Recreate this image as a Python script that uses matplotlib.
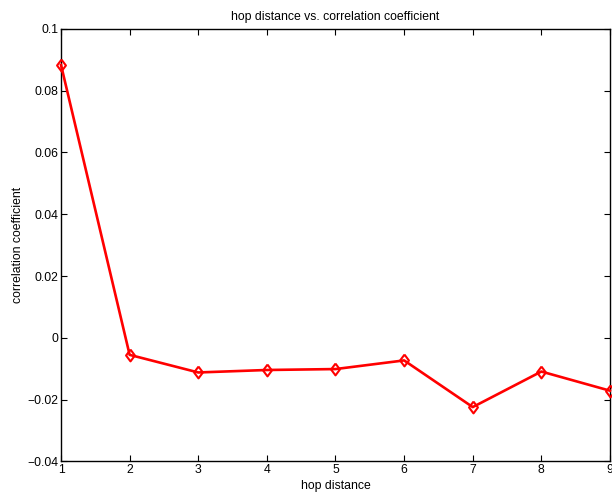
import matplotlib
matplotlib.use("Agg")
import matplotlib.pyplot as plt

# hop distance vs correlation coefficient values
hops = [1, 2, 3, 4, 5, 6, 7, 8, 9]
corr = [0.0883, -0.0055, -0.0112, -0.0104, -0.0101, -0.0073, -0.0224, -0.0109, -0.0171]

yticks = [-0.04, -0.02, 0, 0.02, 0.04, 0.06, 0.08, 0.1]
ytick_labels = ["\u22120.04", "\u22120.02", "0", "0.02", "0.04", "0.06", "0.08", "0.1"]

plt.rcParams['font.family'] = ['Liberation Sans', 'DejaVu Sans']
fs = 8.8

fig = plt.figure(figsize=(6.12, 4.96), dpi=100)
ax = fig.add_axes([0.0997, 0.0696, 0.8970, 0.8724])

# MATLAB style diamond: a bit wider than matplotlib's thin diamond
diamond = [(0, 1), (0.75, 0), (0, -1), (-0.75, 0), (0, 1)]

ax.plot(hops, corr, color='red', linewidth=1.9, marker=diamond, markersize=8.5,
        markerfacecolor='none', markeredgecolor='red', markeredgewidth=1.5,
        clip_on=False, zorder=3)

ax.set_xlim(1, 9)
ax.set_ylim(-0.04, 0.1)
ax.set_xticks(hops)
ax.set_xticklabels([str(h) for h in hops])
ax.set_yticks(yticks)
ax.set_yticklabels(ytick_labels)

ax.tick_params(direction='in', top=True, right=True, length=4, width=0.8,
               labelsize=fs, pad=2)
for sp in ax.spines.values():
    sp.set_linewidth(1.0)

ax.set_title('hop distance vs. correlation coefficient', fontsize=fs, pad=6)
ax.set_xlabel('hop distance', fontsize=fs, labelpad=3)
ax.set_ylabel('correlation coefficient', fontsize=fs, labelpad=2)

fig.savefig('out.png', dpi=100)
